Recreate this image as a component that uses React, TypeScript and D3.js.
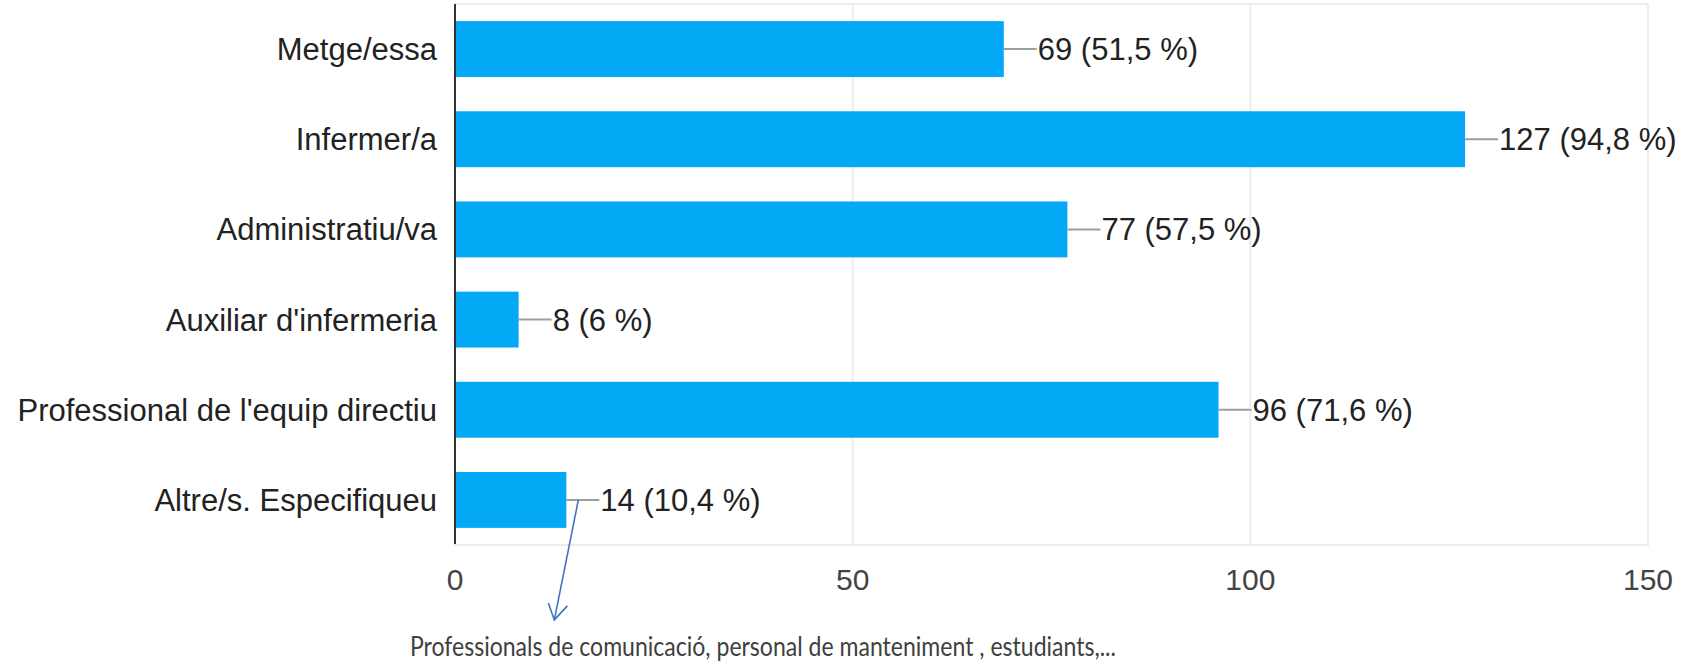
import React, {useRef, useEffect} from 'react'
import * as d3 from 'd3'

const categories = ['Metge/essa', 'Infermer/a', 'Administratiu/va', "Auxiliar d'infermeria", "Professional de l'equip directiu", 'Altre/s. Especifiqueu']
const values = [69, 127, 77, 8, 96, 14]
const percents = ['51,5', '94,8', '57,5', '6', '71,6', '10,4']
const xTicks = [0, 50, 100, 150]
const note = 'Professionals de comunicació, personal de manteniment , estudiants,...'

export default function App() {
	const ref = useRef<SVGSVGElement>(null)

	const layout = {width: 1694, height: 664, left: 455, right: 1648, top: 4, bottom: 545}

	useEffect(() => {
		const svg = d3.select(ref.current)
		svg.selectAll('*').remove()

		const x = d3.scaleLinear().domain([0, 150]).range([layout.left, layout.right])
		const y = d3.scaleBand().domain(categories).range([layout.top, layout.bottom])
			.paddingInner(0.38).paddingOuter(0.19)

		const data = categories.map((c, i) => ({cat: c, value: values[i], pct: percents[i]}))

		// frame + gridlines
		svg.append('rect')
			.attr('x', layout.left).attr('y', layout.top)
			.attr('width', layout.right - layout.left).attr('height', layout.bottom - layout.top)
			.attr('fill', 'none').attr('stroke', '#ececec').attr('stroke-width', 2)

		svg.selectAll('.grid')
			.data(xTicks.filter(t => t > 0))
			.join('line')
			.attr('class', 'grid')
			.attr('x1', d => x(d)).attr('x2', d => x(d))
			.attr('y1', layout.top).attr('y2', layout.bottom)
			.attr('stroke', '#ececec').attr('stroke-width', 2)

		// bars
		svg.selectAll('.bar')
			.data(data)
			.join('rect')
			.attr('class', 'bar')
			.attr('x', x(0))
			.attr('y', d => y(d.cat)!)
			.attr('width', d => x(d.value) - x(0))
			.attr('height', y.bandwidth())
			.attr('fill', '#03a9f4')

		// zero axis
		svg.append('line')
			.attr('x1', x(0)).attr('x2', x(0))
			.attr('y1', layout.top).attr('y2', layout.bottom - 1)
			.attr('stroke', '#333').attr('stroke-width', 2)

		// connectors + value labels
		svg.selectAll('.conn')
			.data(data)
			.join('line')
			.attr('class', 'conn')
			.attr('x1', d => x(d.value)).attr('x2', d => x(d.value) + 33)
			.attr('y1', d => y(d.cat)! + y.bandwidth() / 2)
			.attr('y2', d => y(d.cat)! + y.bandwidth() / 2)
			.attr('stroke', '#9e9e9e').attr('stroke-width', 2)

		svg.selectAll('.val')
			.data(data)
			.join('text')
			.attr('class', 'val')
			.attr('x', d => x(d.value) + 34)
			.attr('y', d => y(d.cat)! + y.bandwidth() / 2 + 11)
			.attr('font-family', 'Liberation Sans, Arial, sans-serif')
			.attr('font-size', 31)
			.attr('fill', '#222')
			.text(d => `${d.value} (${d.pct} %)`)

		// category labels
		svg.selectAll('.cat')
			.data(data)
			.join('text')
			.attr('class', 'cat')
			.attr('x', x(0) - 18)
			.attr('y', d => y(d.cat)! + y.bandwidth() / 2 + 11)
			.attr('text-anchor', 'end')
			.attr('font-family', 'Liberation Sans, Arial, sans-serif')
			.attr('font-size', 31)
			.attr('fill', '#222')
			.text(d => d.cat)

		// x tick labels
		svg.selectAll('.tick-label')
			.data(xTicks)
			.join('text')
			.attr('class', 'tick-label')
			.attr('x', d => x(d))
			.attr('y', 590)
			.attr('text-anchor', 'middle')
			.attr('font-family', 'Liberation Sans, Arial, sans-serif')
			.attr('font-size', 30)
			.attr('fill', '#444')
			.text(d => d)

		// annotation arrow from the "Altre/s" connector
		const last = data[data.length - 1]
		const sx = x(last.value) + 12
		const sy = y(last.cat)! + y.bandwidth() / 2
		const tx = sx - 24, ty = sy + 120
		const arrow = svg.append('g')
			.attr('stroke', '#4472c4').attr('stroke-width', 1.6).attr('fill', 'none')
		arrow.append('line').attr('x1', sx).attr('y1', sy).attr('x2', tx).attr('y2', ty)
		arrow.append('polyline')
			.attr('points', `${tx - 6},${ty - 17} ${tx},${ty} ${tx + 13},${ty - 14}`)

		svg.append('text')
			.attr('x', 410)
			.attr('y', 656)
			.attr('font-family', 'Lato, Open Sans, sans-serif')
			.attr('font-size', 27)
			.attr('fill', '#404040')
			.attr('textLength', 706)
			.attr('lengthAdjust', 'spacingAndGlyphs')
			.text(note)
	}, [])

	return (
		<svg ref={ref} width={layout.width} height={layout.height}
			style={{position: 'absolute', left: 0, top: 0, background: '#fff'}} />
	)
}
